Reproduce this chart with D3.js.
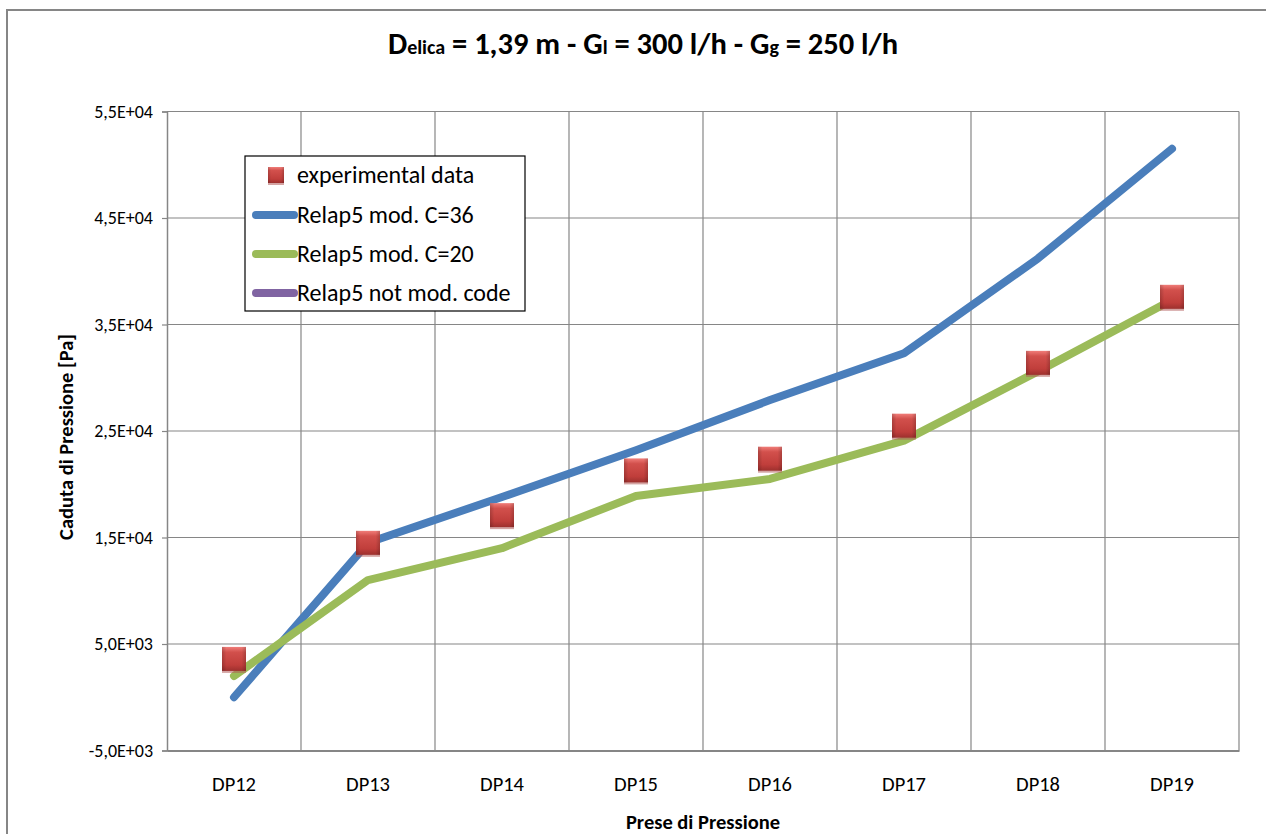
<!DOCTYPE html>
<html>
<head>
<meta charset="utf-8">
<script src="https://cdn.jsdelivr.net/npm/d3@7/dist/d3.min.js"></script>
<style>
  html, body { margin: 0; padding: 0; background: #fff; }
  svg { display: block; font-family: Carlito, Calibri, Lato, "Open Sans", sans-serif; }
</style>
</head>
<body>
<svg id="chart" width="1266" height="834"></svg>
<script>
// ---- data ----
const categories = ["DP12", "DP13", "DP14", "DP15", "DP16", "DP17", "DP18", "DP19"];
const experimentalData = [3600, 14500, 17100, 21300, 22400, 25500, 31400, 37600];
const relapC36 = [0, 14500, 18800, 23200, 27900, 32300, 41200, 51500];
const relapC20 = [2000, 11000, 14000, 18900, 20500, 24100, 30600, 37300];
const relapNotMod = []; // legend only, no visible values
const yTicks = [-5000, 5000, 15000, 25000, 35000, 45000, 55000];
const yTickLabels = ["-5,0E+03", "5,0E+03", "1,5E+04", "2,5E+04", "3,5E+04", "4,5E+04", "5,5E+04"];
const legendLabels = ["experimental data", "Relap5 mod. C=36", "Relap5 mod. C=20", "Relap5 not mod. code"];
const seriesColors = ["#c0504d", "#4a7ebb", "#9bbb59", "#8064a2"];

const FONT = "Carlito, Calibri, Lato, sans-serif";
const svg = d3.select("#chart");
const plot = { left: 167, right: 1239, top: 111.5, bottom: 750.5 };

const x = d3.scaleBand().domain(categories).range([plot.left, plot.right]).padding(0);
const y = d3.scaleLinear().domain([-5000, 55000]).range([plot.bottom, plot.top]);
const cx = d => x(d) + x.bandwidth() / 2;

// defs
const defs = svg.append("defs");
const g1 = defs.append("linearGradient").attr("id", "mk").attr("x1", 0).attr("y1", 0).attr("x2", 0).attr("y2", 1);
g1.append("stop").attr("offset", "0%").attr("stop-color", "#f07d79");
g1.append("stop").attr("offset", "22%").attr("stop-color", "#d2504c");
g1.append("stop").attr("offset", "75%").attr("stop-color", "#c03e3b");
g1.append("stop").attr("offset", "100%").attr("stop-color", "#9d302e");
const g2 = defs.append("linearGradient").attr("id", "mkside").attr("x1", 0).attr("y1", 0).attr("x2", 1).attr("y2", 0);
g2.append("stop").attr("offset", "0%").attr("stop-color", "#000").attr("stop-opacity", 0.18);
g2.append("stop").attr("offset", "18%").attr("stop-color", "#000").attr("stop-opacity", 0);
g2.append("stop").attr("offset", "82%").attr("stop-color", "#000").attr("stop-opacity", 0);
g2.append("stop").attr("offset", "100%").attr("stop-color", "#000").attr("stop-opacity", 0.18);

// chart border
svg.append("rect").attr("x", 7).attr("y", 10).attr("width", 1300).attr("height", 900)
  .attr("fill", "none").attr("stroke", "#868686").attr("stroke-width", 2);

// gridlines horizontal
svg.append("g").selectAll("line").data(yTicks).join("line")
  .attr("x1", plot.left).attr("x2", plot.right)
  .attr("y1", d => y(d)).attr("y2", d => y(d))
  .attr("stroke", "#868686").attr("stroke-width", 1.2);

// vertical gridlines at category boundaries
const bounds = categories.map(c => x(c) + x.bandwidth());
svg.append("g").selectAll("line").data(bounds).join("line")
  .attr("x1", d => d).attr("x2", d => d)
  .attr("y1", plot.top).attr("y2", plot.bottom)
  .attr("stroke", "#868686").attr("stroke-width", 1.2);

// y axis
const yAxis = d3.axisLeft(y).tickValues(yTicks).tickSize(5).tickPadding(9)
  .tickFormat((d, i) => yTickLabels[i]);
const ya = svg.append("g").attr("transform", `translate(${plot.left},0)`).call(yAxis)
  .attr("font-family", FONT).attr("font-size", 18);
ya.select(".domain").attr("stroke", "#868686").attr("stroke-width", 1.5);
ya.selectAll(".tick line").attr("stroke", "#868686").attr("stroke-width", 1.2);
ya.selectAll(".tick text").attr("fill", "#000");

// x axis
const xAxis = d3.axisBottom(x).tickSize(0).tickPadding(26);
const xa = svg.append("g").attr("transform", `translate(0,${plot.bottom})`).call(xAxis)
  .attr("font-family", FONT).attr("font-size", 20.5);
xa.select(".domain").attr("stroke", "#868686").attr("stroke-width", 2);
xa.selectAll(".tick text").attr("fill", "#000");

// lines
const line = d3.line().x((d, i) => cx(categories[i])).y(d => y(d));
[[relapC36, seriesColors[1]], [relapC20, seriesColors[2]], [relapNotMod, seriesColors[3]]].forEach(([data, col]) => {
  if (!data.length) return;
  svg.append("path").datum(data).attr("d", line)
    .attr("fill", "none").attr("stroke", col).attr("stroke-width", 8)
    .attr("stroke-linecap", "round").attr("stroke-linejoin", "round");
});

// markers
function marker(sel, size) {
  sel.append("rect").attr("x", -size / 2).attr("y", -size / 2 + 2).attr("width", size).attr("height", size)
    .attr("fill", "#b05a58").attr("opacity", 0.55);
  sel.append("rect").attr("x", -size / 2).attr("y", -size / 2).attr("width", size).attr("height", size)
    .attr("fill", "url(#mk)");
  sel.append("rect").attr("x", -size / 2).attr("y", -size / 2).attr("width", size).attr("height", size)
    .attr("fill", "url(#mkside)");
}
svg.append("g").selectAll("g").data(experimentalData).join("g")
  .attr("transform", (d, i) => `translate(${cx(categories[i])},${y(d)})`)
  .each(function () { marker(d3.select(this), 24); });

// axis titles
svg.append("text").attr("x", (plot.left + plot.right) / 2).attr("y", 829)
  .attr("text-anchor", "middle").attr("font-size", 20.5).attr("font-weight", "bold")
  .text("Prese di Pressione");
svg.append("text").attr("transform", `translate(73,${(plot.top + plot.bottom) / 2 + 6}) rotate(-90)`)
  .attr("text-anchor", "middle").attr("font-size", 20.5).attr("font-weight", "bold")
  .text("Caduta di Pressione [Pa]");

// title
const t = svg.append("text").attr("x", 643).attr("y", 54).attr("text-anchor", "middle")
  .attr("font-size", 30.5).attr("font-weight", "bold");
t.append("tspan").text("D");
t.append("tspan").attr("font-size", 20).text("elica");
t.append("tspan").text(" = 1,39 m - G");
t.append("tspan").attr("font-size", 20).text("l");
t.append("tspan").text(" = 300 l/h - G");
t.append("tspan").attr("font-size", 20).text("g");
t.append("tspan").text(" = 250 l/h");

// legend
const lg = svg.append("g");
lg.append("rect").attr("x", 245).attr("y", 156).attr("width", 280).attr("height", 155)
  .attr("fill", "#fff").attr("stroke", "#000").attr("stroke-width", 1.2);
const rowsY = [175, 215, 254, 293];
legendLabels.forEach((lab, i) => {
  const ry = rowsY[i];
  if (i === 0) {
    const m = lg.append("g").attr("transform", `translate(276,${ry})`);
    marker(m, 16);
  } else {
    lg.append("line").attr("x1", 256).attr("x2", 294).attr("y1", ry).attr("y2", ry)
      .attr("stroke", seriesColors[i]).attr("stroke-width", 8).attr("stroke-linecap", "round");
  }
  lg.append("text").attr("x", 297).attr("y", ry + 8).attr("font-size", 24).text(lab);
});
</script>
</body>
</html>
